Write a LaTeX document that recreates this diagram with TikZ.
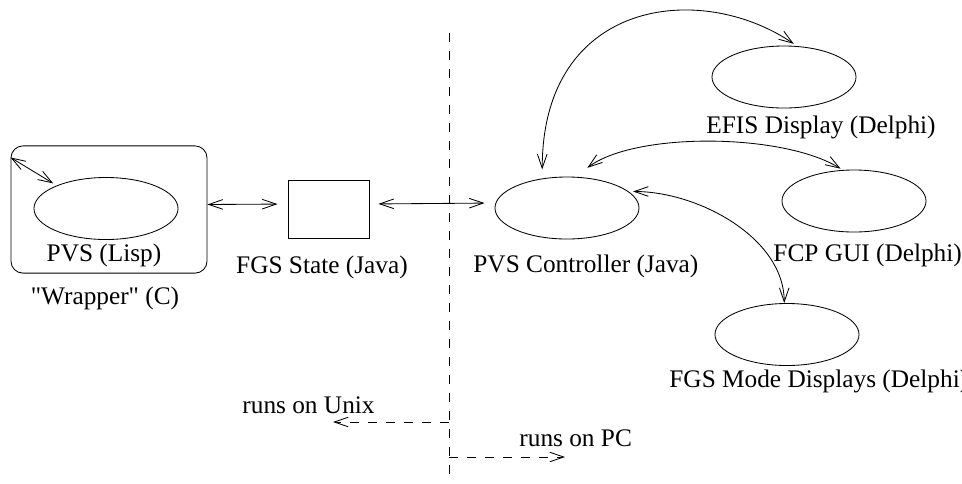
\documentclass[tikz,border=0pt]{standalone}
\usepackage{fontspec}
\setmainfont{Liberation Serif}[Ligatures=TeXOff]
\usetikzlibrary{shapes.geometric,arrows.meta}

\begin{document}
\begin{tikzpicture}[x=0.025cm,y=-0.025cm,line width=0.6pt,
    font=\fontsize{18}{21}\selectfont,
    >={Straight Barb[length=3.5mm,width=2.4mm]},
    proc/.style={draw,ellipse,inner sep=0pt,minimum width=3.6cm,minimum height=1.55cm},
    lbl/.style={inner sep=0pt,anchor=base},
    split/.style={dash pattern=on 2.25mm off 2.25mm}]
  \useasboundingbox (0,0) rectangle (962,483);

  \node[draw,rounded corners=3mm,minimum width=4.9cm,minimum height=3.18cm] (wrap) at (109,209.5) {};
  \node[proc] (pvs) at (106,208.5) {};
  \node[draw,minimum width=2.025cm,minimum height=1.45cm] (state) at (328.5,209) {};
  \node[proc] (ctrl) at (567,208) {};
  \node[proc] (efis) at (784,77) {};
  \node[proc] (fcp) at (854,201) {};
  \node[proc] (mode) at (787,334.5) {};

  \node[lbl] (pvslbl) at (104,261) {PVS (Lisp)};
  \node[lbl] (wraplbl) at (105,304) {"Wrapper" (C)};
  \node[lbl] (statelbl) at (322,273) {FGS State (Java)};
  \node[lbl,anchor=base west] (ctrllbl) at (473,272) {PVS Controller (Java)};
  \node[lbl,anchor=base west] (efislbl) at (706,133) {EFIS Display (Delphi)};
  \node[lbl,anchor=base west] (fcplbl) at (773,261) {FCP GUI (Delphi)};
  \node[lbl,anchor=base west] (modelbl) at (669,387) {FGS Mode Displays (Delphi)};
  \node[lbl,anchor=base west] (unixlbl) at (242,413) {runs on Unix};
  \node[lbl,anchor=base west] (pclbl) at (519,446) {runs on PC};

  % Unix / PC border
  \coordinate (divtop) at (449,33);
  \coordinate (divbot) at (449,483);
  \coordinate (unixfrom) at (449,422);
  \coordinate (unixto) at (333,422);
  \coordinate (pcfrom) at (449,457);
  \coordinate (pcto) at (565,457);
  \draw[split] (divtop) -- (divbot);
  \draw[split,->] (unixfrom) -- (unixto);
  \draw[split,->] (pcfrom) -- (pcto);

  \draw[<->,shorten >=1mm] ([yshift=-3mm]wrap.north west) -- (pvs.155);
  \draw[<->,shorten >=2.5mm] ([yshift=1.25mm]wrap.east) -- ([yshift=1.25mm]state.west);
  \draw[<->,shorten <=2.25mm,shorten >=2.5mm] ([yshift=1.25mm]state.east) -- ([yshift=1.25mm]ctrl.west);

  \draw[<->,shorten <=2.25mm,shorten >=1mm] (ctrl.130) .. controls +(0,-179) and +(-97,-66) .. (efis.67);
  \draw[<->,shorten <=3.75mm,shorten >=0.6mm] (ctrl.75) .. controls +(60,-45) and +(-60,-37) .. (fcp.110);
  \draw[<->,shorten <=1.1mm] (ctrl.15) .. controls +(70,0) and +(0,-65) .. (mode.95);
\end{tikzpicture}
\end{document}
